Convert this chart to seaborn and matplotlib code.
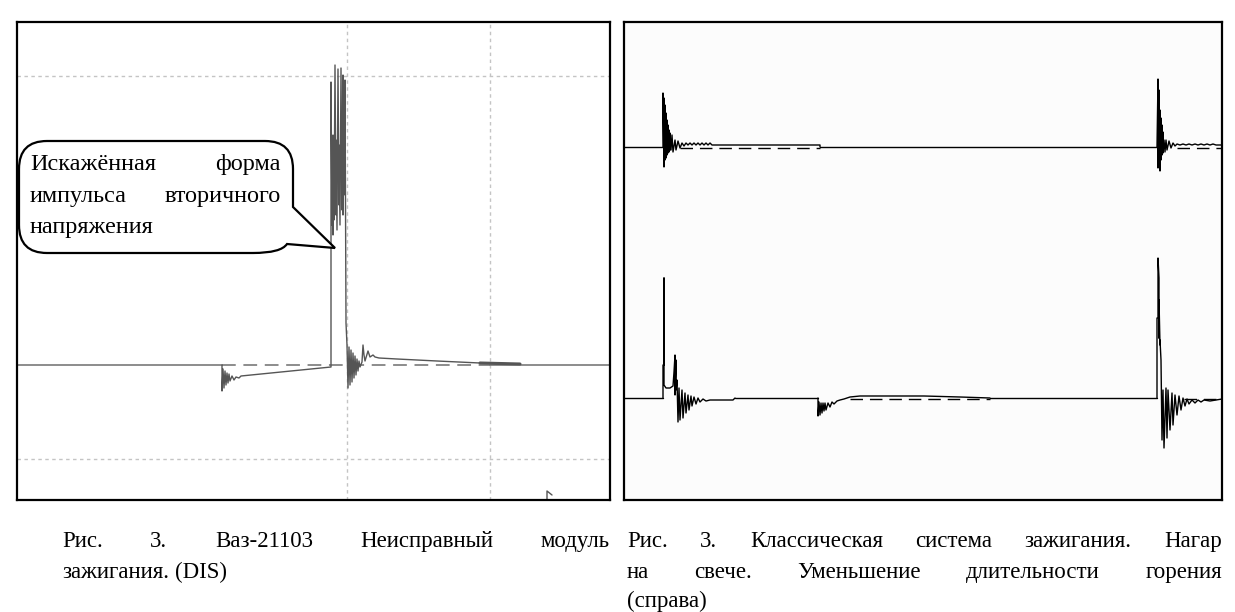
import matplotlib
matplotlib.use("Agg")
import matplotlib.pyplot as plt
import seaborn as sns
from matplotlib.path import Path
from matplotlib.patches import PathPatch

sns.set_style("white")
plt.rcParams['font.family'] = ['Liberation Serif', 'DejaVu Serif']

W, H = 1235, 612

# ---------------- data: left oscillogram (DIS, faulty module) ----------------
# (time, voltage) in screen units, baseline = 0
dis_trace = [(205, 0), (205, -26), (206, -4), (207, -23), (208, -6), (209, -20), (210, -8),
             (211, -18), (212, -9), (213, -16), (215, -11), (217, -15), (219, -12), (222, -13),
             (224, -11), (314, -2), (314, 0), (314, 283), (315, 140), (316, 230), (316, 130),
             (317, 215), (317, 145), (318, 300), (319, 150), (319, 225), (320, 135), (321, 296),
             (322, 160), (322, 220), (323, 140), (324, 297), (325, 155), (325, 210), (326, 150),
             (326, 290), (327, 170), (327, 240), (328, 180), (328, 285), (329, 42), (330, 20),
             (331, -23), (332, 18), (333, -20), (334, 15), (335, -17), (336, 12), (337, -13),
             (338, 9), (339, -10), (340, 6), (341, -6), (342, 4), (343, -2), (345, 3), (346, 20),
             (347, 10), (348, 4), (351, 14), (353, 8), (356, 10), (358, 8), (362, 7), (380, 6),
             (420, 4), (463, 2), (503, 1)]
dis_tail = [(463, 2), (503, 1)]
dis_base_solid = [(0, 205), (473, 593)]
dis_base_dashed = [(205, 473)]
dis_grid_t = [330, 473]
dis_grid_u = [289, -94]
dis_mark = [(530, -135), (530, -126), (535, -130)]

# ---------------- data: right oscillogram (classic ignition) ----------------
ch1_offset, ch2_offset = 353, 102
ch1_a = [(39, 0), (39, 54), (40, -20), (40, 49), (41, -13), (41, 42), (42, -11), (42, 34), (43, -8),
         (43, 27), (44, -6), (44, 22), (45, -5), (45, 17), (46, -3), (46, 14), (47, -3), (48, 12),
         (49, -5), (51, 7), (52, -3), (54, 6), (56, -1), (58, 4), (60, 1), (62, 4), (64, 2), (66, 4),
         (68, 2), (70, 4), (72, 2), (74, 4), (76, 2), (78, 4), (80, 2), (82, 4), (84, 2), (86, 4),
         (88, 2), (91, 2), (196, 2), (196, 0)]
ch1_b = [(533, 0), (534, 68), (534, -21), (535, 57), (535, -13), (536, 37), (536, -24), (537, 29),
         (537, -13), (538, 22), (538, -8), (539, 15), (539, -6), (540, 7), (541, -5), (542, 7),
         (543, -3), (545, 6), (547, -1), (549, 4), (551, 1), (553, 3), (556, 2), (559, 3), (562, 2),
         (565, 3), (568, 2), (571, 3), (574, 2), (577, 3), (580, 2), (583, 3), (586, 2), (589, 3),
         (592, 2), (598, 2)]
ch1_base_solid = [(0, 39), (196, 533)]
ch1_base_dashed = [(56, 196), (553, 598)]

ch2_a = [(39, 0), (39, 33), (40, 33), (40, 120), (40, 13), (42, 10), (46, 10), (49, 12), (50, 26),
         (51, 43), (51, 3), (52, 38), (52, 8), (53, 18), (54, -24), (55, 10), (56, -22), (58, 8),
         (59, -20), (61, 5), (62, -15), (64, 3), (65, -12), (67, 2), (68, -8), (70, 1), (72, -6),
         (74, 0), (76, -4), (79, -1), (82, -3), (86, -2), (109, -2), (111, 0)]
ch2_b = [(194, 0), (194, -18), (195, -4), (196, -17), (197, -5), (198, -15), (199, -5), (200, -13),
         (201, -5), (202, -12), (204, -5), (206, -9), (208, -4), (210, -6), (213, -3), (216, -2),
         (220, -1), (226, 1), (236, 2), (276, 2), (300, 2), (336, 1), (366, 0)]
ch2_c = [(533, 0), (533, 80), (534, 80), (534, 140), (535, 120), (535, 60), (535, 98), (536, 53),
         (536, 58), (537, 38), (538, -42), (539, 8), (540, -50), (542, 10), (543, -40), (544, 8),
         (546, -32), (548, 5), (549, -27), (551, 3), (553, -17), (555, 2), (557, -12), (559, 0),
         (561, -8), (563, -1), (565, -6), (568, -2), (571, -5), (574, -2), (577, -4), (580, -2),
         (586, -3), (598, -1)]
ch2_base_solid = [(0, 39), (111, 194), (366, 533)]
ch2_base_dashed = [(226, 366), (560, 598)]

# ---------------- texts ----------------
bubble_lines = [["Искажённая", "форма"], ["импульса", "вторичного"], ["напряжения"]]
cap_left = [["Рис.", "3.", "Ваз-21103", "Неисправный", "модуль"], ["зажигания.", "(DIS)"]]
cap_right = [["Рис.", "3.", "Классическая", "система", "зажигания.", "Нагар"],
             ["на", "свече.", "Уменьшение", "длительности", "горения"], ["(справа)"]]


def draw(ax, pts, color, lw, offset=0, **kw):
    xs = [p[0] for p in pts]
    ys = [p[1] + offset for p in pts]
    sns.lineplot(x=xs, y=ys, sort=False, estimator=None, ax=ax, color=color,
                 linewidth=lw, legend=False, **kw)


fig = plt.figure(figsize=(W / 100, H / 100), dpi=100)
fig.patch.set_facecolor("white")

axL = fig.add_axes([17 / W, 112 / H, 593 / W, 478 / H])
axR = fig.add_axes([624 / W, 112 / H, 598 / W, 478 / H])

# ----- left panel -----
axL.set_facecolor("white")
for g in dis_grid_t:
    axL.axvline(g, color="#c4c4c4", lw=1.0, ls=(0, (2.5, 2.5)), zorder=1)
for g in dis_grid_u:
    axL.axhline(g, color="#c4c4c4", lw=1.0, ls=(0, (2.5, 2.5)), zorder=1)
for a, b in dis_base_solid:
    axL.plot([a, b], [0, 0], color="#6e6e6e", lw=1.1, zorder=2)
for a, b in dis_base_dashed:
    axL.plot([a, b], [0, 0], color="#6e6e6e", lw=1.1, ls=(0, (9, 5)), zorder=2)
draw(axL, dis_trace, "#555555", 1.0)
draw(axL, dis_tail, "#555555", 2.2)
draw(axL, dis_mark, "#555555", 1.0)
axL.set_xlim(0, 593)
axL.set_ylim(-135, 343)

# callout bubble (screen units of the left panel)
bx0, bx1, by0, by1, r = 2, 276, 112, 224, 28
tip = (318, 117)
verts = [(bx0 + r, by1), (bx1 - r, by1), (bx1, by1), (bx1, by1 - r), (bx1, 158), tip,
         (270, 121), (bx1 - 12, by0), (bx1 - r - 12, by0), (bx0 + r, by0), (bx0, by0),
         (bx0, by0 + r), (bx0, by1 - r), (bx0, by1), (bx0 + r, by1), (bx0 + r, by1)]
codes = [Path.MOVETO, Path.LINETO, Path.CURVE3, Path.CURVE3, Path.LINETO, Path.LINETO,
         Path.LINETO, Path.CURVE3, Path.CURVE3, Path.LINETO, Path.CURVE3, Path.CURVE3,
         Path.LINETO, Path.CURVE3, Path.CURVE3, Path.CLOSEPOLY]
axL.add_patch(PathPatch(Path(verts, codes), facecolor="white", edgecolor="black",
                        lw=1.6, zorder=5))

# ----- right panel -----
axR.set_facecolor("#fcfcfc")
for segs, off in ((ch1_base_solid, ch1_offset), (ch2_base_solid, ch2_offset)):
    for a, b in segs:
        axR.plot([a, b], [off, off], color="black", lw=1.0, zorder=2)
for segs, off in ((ch1_base_dashed, ch1_offset), (ch2_base_dashed, ch2_offset)):
    for a, b in segs:
        axR.plot([a, b], [off - 1, off - 1], color="black", lw=1.0, ls=(0, (9, 5)), zorder=2)
draw(axR, ch1_a, "black", 1.0, ch1_offset)
draw(axR, ch1_b, "black", 1.0, ch1_offset)
draw(axR, ch2_a, "black", 1.0, ch2_offset)
draw(axR, ch2_b, "black", 1.0, ch2_offset)
draw(axR, ch2_c, "black", 1.0, ch2_offset)
axR.set_xlim(0, 598)
axR.set_ylim(0, 478)

for ax in (axL, axR):
    ax.set_xticks([])
    ax.set_yticks([])
    ax.set_xlabel("")
    ax.set_ylabel("")
    for s in ax.spines.values():
        s.set_visible(True)
        s.set_color("black")
        s.set_linewidth(1.6)

renderer = fig.canvas.get_renderer()


def text_width(s, size):
    t = fig.text(0, 0, s, fontsize=size)
    w = t.get_window_extent(renderer).width
    t.remove()
    return w


def place_line(words, x0, x1, y, size, justify=True, zorder=10):
    texts = [fig.text(0, 1 - y / H, w, fontsize=size, va="baseline", ha="left",
                      color="black", zorder=zorder) for w in words]
    widths = [t.get_window_extent(renderer).width for t in texts]
    if justify and len(words) > 1:
        gap = (x1 - x0 - sum(widths)) / (len(words) - 1)
    else:
        gap = text_width(" ", size)
    x = x0
    for t, w in zip(texts, widths):
        t.set_x(x / W)
        x += w + gap


fs_bubble = 17.5
place_line(bubble_lines[0], 30, 281, 170, fs_bubble)
place_line(bubble_lines[1], 30, 281, 202, fs_bubble)
place_line(bubble_lines[2], 30, 281, 233, fs_bubble, justify=False)

fs_cap = 16.5
place_line(cap_left[0], 62, 610, 547, fs_cap)
place_line(cap_left[1], 62, 610, 578, fs_cap, justify=False)
place_line(cap_right[0], 627, 1222, 547, fs_cap)
place_line(cap_right[1], 627, 1222, 578, fs_cap)
place_line(cap_right[2], 627, 1222, 607, fs_cap, justify=False)

fig.savefig("out.png", dpi=100, facecolor="white")
